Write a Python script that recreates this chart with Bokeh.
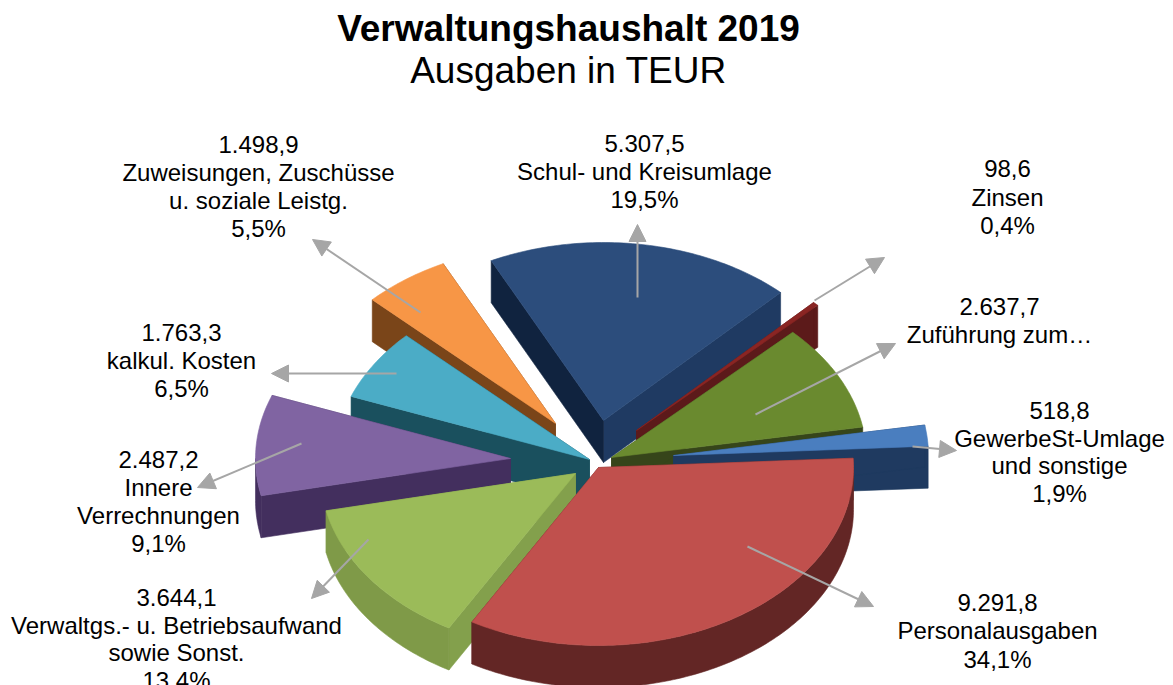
import numpy as np
from bokeh.plotting import figure
from bokeh.models import Range1d, Arrow, NormalHead
from bokeh.core.properties import value
from bokeh.embed import file_html
from bokeh.resources import INLINE

# ---- data ----
names = ["Personalausgaben", "Verwaltgs.- u. Betriebsaufwand sowie Sonst.", "Innere Verrechnungen",
         "kalkul. Kosten", "Zuweisungen, Zuschüsse u. soziale Leistg.", "Schul- und Kreisumlage",
         "Zinsen", "Zuführung zum…", "GewerbeSt-Umlage und sonstige"]
amounts = [9291.8, 3644.1, 2487.2, 1763.3, 1498.9, 5307.5, 98.6, 2637.7, 518.8]
title_main = "Verwaltungshaushalt 2019"
title_sub = "Ausgaben in TEUR"
label_lines = [
    ["9.291,8", "Personalausgaben", "34,1%"],
    ["3.644,1", "Verwaltgs.- u. Betriebsaufwand", "sowie Sonst.", "13,4%"],
    ["2.487,2", "Innere", "Verrechnungen", "9,1%"],
    ["1.763,3", "kalkul. Kosten", "6,5%"],
    ["1.498,9", "Zuweisungen, Zuschüsse", "u. soziale Leistg.", "5,5%"],
    ["5.307,5", "Schul- und Kreisumlage", "19,5%"],
    ["98,6", "Zinsen", "0,4%"],
    ["2.637,7", "Zuführung zum…"],
    ["518,8", "GewerbeSt-Umlage", "und sonstige", "1,9%"],
]

# ---- styling / layout (picture pixels) ----
W, H = 1173, 685
RX, RY, DEPTH = 255, 178, 42
START_DEG = 87
apex = [(598, 467), (575, 473), (510, 458), (589, 459), (555, 423), (603, 420), (636, 430), (611, 457), (673, 455)]
top_col = ["#c0504d", "#9bbb59", "#8064a2", "#4bacc6", "#f79646", "#2c4d7c", "#8a2523", "#6a8a2f", "#4a7ebf"]
wall_col = ["#632625", "#7f9a48", "#432f5e", "#1a505e", "#7a4519", "#1f3a62", "#5c1a1a", "#36451a", "#1f3a60"]
cut_col = ["#632625", "#83a04c", "#432f5e", "#1a505e", "#7a4519", "#1f3a62", "#5c1a1a", "#36451a", "#1f3a60"]
cut2_col = ["#632625", "#83a04c", "#432f5e", "#1a505e", "#7a4519", "#10233f", "#5c1a1a", "#36451a", "#1f3a60"]
draw_order = [5, 4, 6, 7, 3, 8, 2, 1, 0]
label_cx = [997, 176, 158, 181, 258, 644, 1007, 999, 1059]
label_cy = [[602, 630, 659], [597, 625, 652, 680], [459, 487, 515, 543], [332, 360, 388],
            [144, 172, 200, 228], [143, 171, 199], [168, 197, 225], [306, 334], [410, 438, 465, 493]]
leader_from = [(747, 546), (368, 539), (301, 443), (396, 373), (420, 312), (637, 297), (814, 300), (755, 414), (912, 446)]
leader_to = [(873, 606), (311, 598), (197, 487), (271, 373), (312, 239), (637, 224), (884, 257), (895, 343), (956, 450)]

p = figure(width=W, height=H, x_range=Range1d(0, W), y_range=Range1d(H, 0),
           toolbar_location=None, output_backend="svg", min_border=0,
           background_fill_color="white", border_fill_color="white", outline_line_color=None)
p.axis.visible = False
p.grid.visible = False

shares = np.array(amounts) / sum(amounts)
edges = START_DEG + 360 * np.concatenate([[0], np.cumsum(shares)])


def rim(cx, cy, a0, a1, dz=0):
    t = np.radians(np.linspace(a0, a1, max(3, int(abs(a1 - a0)) + 2)))
    return cx + RX * np.sin(t), cy - RY * np.cos(t) + dz


xs, ys, cols = [], [], []


def add(x, y, c):
    xs.append(list(map(float, x)))
    ys.append(list(map(float, y)))
    cols.append(c)


for i in draw_order:
    a0, a1 = edges[i], edges[i + 1]
    cx, cy = apex[i]
    # back cut, front cut
    ex, ey = rim(cx, cy, a1, a1)
    add([cx, ex[0], ex[0], cx], [cy, ey[0], ey[0] + DEPTH, cy + DEPTH], cut_col[i])
    ex, ey = rim(cx, cy, a0, a0)
    add([cx, ex[0], ex[0], cx], [cy, ey[0], ey[0] + DEPTH, cy + DEPTH], cut2_col[i] if i == 5 else cut_col[i])
    # curved outer wall: only the part that faces the viewer
    lo, hi = max(a0, 90), min(a1, 270)
    if hi > lo:
        rx, ry = rim(cx, cy, lo, hi)
        add(np.concatenate([rx, rx[::-1]]), np.concatenate([ry, ry[::-1] + DEPTH]), wall_col[i])
    # top face
    rx, ry = rim(cx, cy, a0, a1)
    add(np.concatenate([[cx], rx]), np.concatenate([[cy], ry]), top_col[i])

p.patches(xs, ys, fill_color=cols, line_color=cols, line_width=0.6)

for a, b in zip(leader_from, leader_to):
    p.add_layout(Arrow(end=NormalHead(size=17, fill_color="#a6a6a6", line_color="#a6a6a6", line_width=1),
                       x_start=a[0], y_start=a[1], x_end=b[0], y_end=b[1],
                       line_color="#a6a6a6", line_width=2))

FONT = value("Liberation Sans")
for lines, cx, cys in zip(label_lines, label_cx, label_cy):
    p.text([cx] * len(lines), cys, text=lines, text_font=FONT, text_font_size="24px", text_color="#000000",
           text_align="center", text_baseline="middle")
p.text([568], [28], text=[title_main], text_font=FONT, text_font_size="37px", text_font_style="bold",
       text_color="#000000", text_align="center", text_baseline="middle")
p.text([568], [70], text=[title_sub], text_font=FONT, text_font_size="37px", text_color="#000000",
       text_align="center", text_baseline="middle")

open("out.html", "w").write(file_html(p, INLINE))
